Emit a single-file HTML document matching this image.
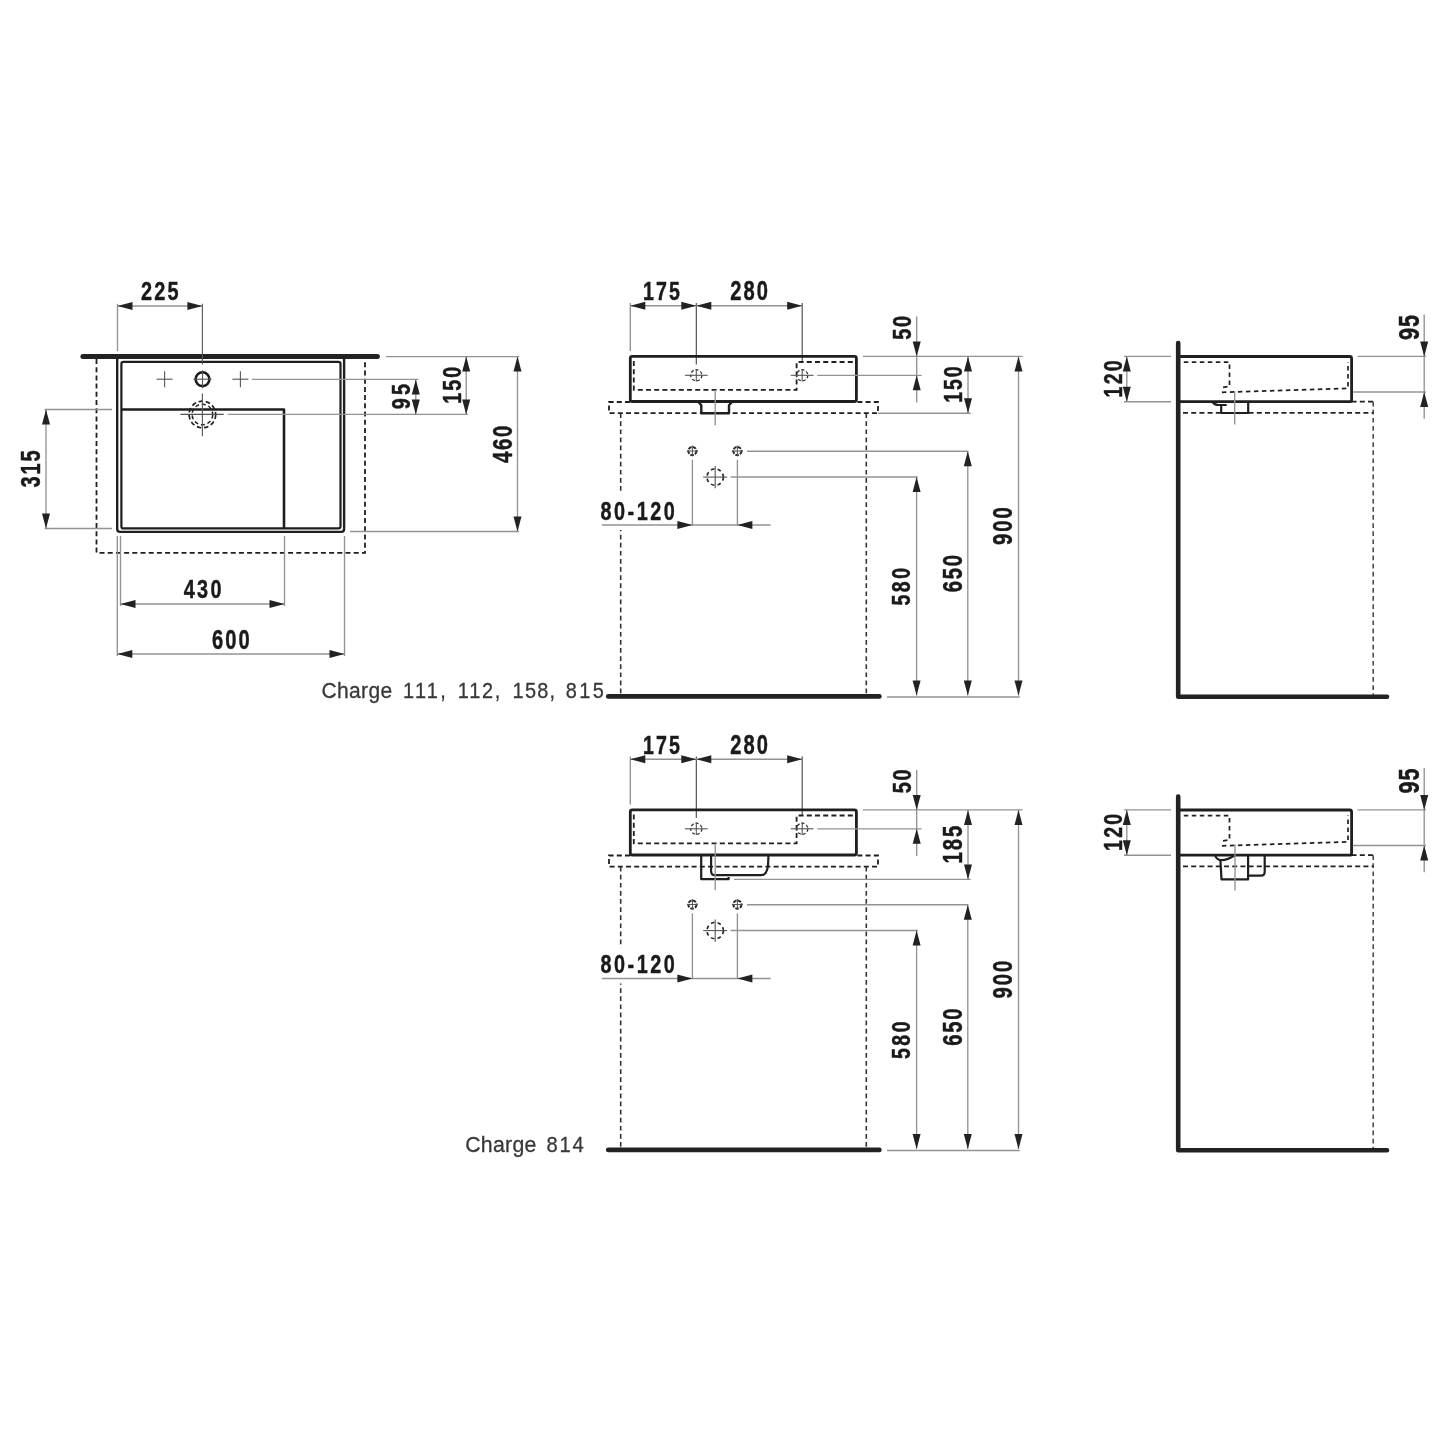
<!DOCTYPE html>
<html><head><meta charset="utf-8"><style>
html,body{margin:0;padding:0;background:#fff;}
svg{display:block;filter:blur(0.35px);}
.n{font-family:"Liberation Sans",sans-serif;font-weight:bold;fill:#1a1a1a;stroke:#1a1a1a;stroke-width:0.45px;}
.c{font-family:"Liberation Sans",sans-serif;fill:#383838;stroke:#383838;stroke-width:0.3px;}
</style></head><body>
<svg width="1445" height="1445" viewBox="0 0 1445 1445">
<rect width="1445" height="1445" fill="#fff"/>
<line x1="82.90" y1="356.40" x2="377.40" y2="356.40" stroke="#222" stroke-width="5.0" stroke-linecap="round"/>
<path d="M96.5,359 L96.5,552.8 L365,552.8 L365,359" stroke="#1f1f1f" stroke-width="1.8" fill="none" stroke-linejoin="miter" stroke-linecap="butt" stroke-dasharray="5 3.2"/>
<path d="M117.2,356.5 L117.2,529.1 Q117.2,531.9 120.0,531.9 L341.3,531.9 Q344.1,531.9 344.1,529.1 L344.1,356.5" stroke="#1f1f1f" stroke-width="2.4" fill="none" stroke-linejoin="round" stroke-linecap="butt"/>
<path d="M123.4,361.9 L338.3,361.9 Q340.5,361.9 340.5,364.1 L340.5,526.2 Q340.5,528.4 338.3,528.4 L123.4,528.4 Q121.4,528.4 121.4,526.4 L121.4,363.9 Q121.4,361.9 123.4,361.9 Z" stroke="#1f1f1f" stroke-width="2.2" fill="none" stroke-linejoin="round" stroke-linecap="butt"/>
<path d="M121.4,409.5 L284,409.5 L284,528" stroke="#1f1f1f" stroke-width="2.6" fill="none" stroke-linejoin="round" stroke-linecap="butt"/>
<line x1="117.50" y1="303.80" x2="117.50" y2="351.00" stroke="#939393" stroke-width="1.35" stroke-linecap="butt"/>
<line x1="202.40" y1="303.80" x2="202.40" y2="364.60" stroke="#555" stroke-width="1.1" stroke-linecap="butt"/>
<line x1="117.50" y1="306.00" x2="202.40" y2="306.00" stroke="#939393" stroke-width="1.35" stroke-linecap="butt"/>
<polygon points="117.50,306.00 132.50,302.00 132.50,310.00" fill="#222"/>
<polygon points="202.40,306.00 187.40,302.00 187.40,310.00" fill="#222"/>
<text transform="translate(140.90,300.20) scale(0.7500,1)" x="-0.00" y="0" font-size="26.57" letter-spacing="2.978" class="n">225</text>
<circle cx="202.5" cy="379.2" r="6.9" fill="none" stroke="#1c1c1c" stroke-width="2.6"/>
<line x1="193.50" y1="379.20" x2="211.50" y2="379.20" stroke="#555" stroke-width="1.1" stroke-linecap="butt"/>
<line x1="202.50" y1="370.20" x2="202.50" y2="388.20" stroke="#555" stroke-width="1.1" stroke-linecap="butt"/>
<line x1="156.60" y1="379.20" x2="172.60" y2="379.20" stroke="#555" stroke-width="1.1" stroke-linecap="butt"/>
<line x1="164.60" y1="371.20" x2="164.60" y2="387.20" stroke="#555" stroke-width="1.1" stroke-linecap="butt"/>
<line x1="232.40" y1="379.20" x2="248.40" y2="379.20" stroke="#555" stroke-width="1.1" stroke-linecap="butt"/>
<line x1="240.40" y1="371.20" x2="240.40" y2="387.20" stroke="#555" stroke-width="1.1" stroke-linecap="butt"/>
<line x1="251.80" y1="379.40" x2="418.50" y2="379.40" stroke="#939393" stroke-width="1.35" stroke-linecap="butt"/>
<circle cx="202.4" cy="414.5" r="13.3" fill="none" stroke="#222" stroke-width="1.7" stroke-dasharray="4.5 2.8"/>
<circle cx="202.4" cy="414.5" r="10.3" fill="none" stroke="#222" stroke-width="1.5" stroke-dasharray="4 2.8"/>
<line x1="180.40" y1="414.40" x2="223.80" y2="414.40" stroke="#555" stroke-width="1.1" stroke-linecap="butt"/>
<line x1="202.40" y1="393.60" x2="202.40" y2="436.30" stroke="#555" stroke-width="1.1" stroke-linecap="butt"/>
<line x1="227.60" y1="414.40" x2="468.00" y2="414.40" stroke="#939393" stroke-width="1.35" stroke-linecap="butt"/>
<line x1="44.60" y1="409.50" x2="112.00" y2="409.50" stroke="#939393" stroke-width="1.35" stroke-linecap="butt"/>
<line x1="44.60" y1="528.50" x2="112.00" y2="528.50" stroke="#939393" stroke-width="1.35" stroke-linecap="butt"/>
<line x1="46.00" y1="409.50" x2="46.00" y2="528.50" stroke="#939393" stroke-width="1.35" stroke-linecap="butt"/>
<polygon points="46.00,409.50 42.00,424.50 50.00,424.50" fill="#222"/>
<polygon points="46.00,528.50 42.00,513.50 50.00,513.50" fill="#222"/>
<text transform="translate(40.10,487.40) rotate(-90) scale(0.7500,1)" x="-0.00" y="0" font-size="26.71" letter-spacing="2.461" class="n">315</text>
<line x1="386.00" y1="356.60" x2="519.00" y2="356.60" stroke="#939393" stroke-width="1.35" stroke-linecap="butt"/>
<line x1="350.00" y1="531.50" x2="519.00" y2="531.50" stroke="#939393" stroke-width="1.35" stroke-linecap="butt"/>
<line x1="517.50" y1="356.60" x2="517.50" y2="531.50" stroke="#939393" stroke-width="1.35" stroke-linecap="butt"/>
<polygon points="517.50,356.60 513.50,371.60 521.50,371.60" fill="#222"/>
<polygon points="517.50,531.50 513.50,516.50 521.50,516.50" fill="#222"/>
<text transform="translate(511.60,463.10) rotate(-90) scale(0.7500,1)" x="-0.00" y="0" font-size="27.27" letter-spacing="2.195" class="n">460</text>
<line x1="415.80" y1="379.40" x2="415.80" y2="414.50" stroke="#939393" stroke-width="1.35" stroke-linecap="butt"/>
<polygon points="415.80,379.40 411.80,394.40 419.80,394.40" fill="#222"/>
<polygon points="415.80,414.50 411.80,399.50 419.80,399.50" fill="#222"/>
<text transform="translate(409.50,409.20) rotate(-90) scale(0.7500,1)" x="-0.00" y="0" font-size="26.43" letter-spacing="4.193" class="n">95</text>
<line x1="466.20" y1="356.60" x2="466.20" y2="414.50" stroke="#939393" stroke-width="1.35" stroke-linecap="butt"/>
<polygon points="466.20,356.60 462.20,371.60 470.20,371.60" fill="#222"/>
<polygon points="466.20,414.50 462.20,399.50 470.20,399.50" fill="#222"/>
<text transform="translate(460.80,403.80) rotate(-90) scale(0.7500,1)" x="-0.00" y="0" font-size="26.29" letter-spacing="2.678" class="n">150</text>
<line x1="117.30" y1="536.00" x2="117.30" y2="656.00" stroke="#939393" stroke-width="1.35" stroke-linecap="butt"/>
<line x1="344.50" y1="536.00" x2="344.50" y2="656.00" stroke="#939393" stroke-width="1.35" stroke-linecap="butt"/>
<line x1="120.50" y1="536.00" x2="120.50" y2="606.00" stroke="#939393" stroke-width="1.35" stroke-linecap="butt"/>
<line x1="284.50" y1="536.00" x2="284.50" y2="606.00" stroke="#939393" stroke-width="1.35" stroke-linecap="butt"/>
<line x1="120.50" y1="604.00" x2="284.50" y2="604.00" stroke="#939393" stroke-width="1.35" stroke-linecap="butt"/>
<polygon points="120.50,604.00 135.50,600.00 135.50,608.00" fill="#222"/>
<polygon points="284.50,604.00 269.50,600.00 269.50,608.00" fill="#222"/>
<line x1="117.30" y1="654.00" x2="344.50" y2="654.00" stroke="#939393" stroke-width="1.35" stroke-linecap="butt"/>
<polygon points="117.30,654.00 132.30,650.00 132.30,658.00" fill="#222"/>
<polygon points="344.50,654.00 329.50,650.00 329.50,658.00" fill="#222"/>
<text transform="translate(183.70,597.90) scale(0.7500,1)" x="-0.00" y="0" font-size="26.43" letter-spacing="3.094" class="n">430</text>
<text transform="translate(211.90,648.90) scale(0.7500,1)" x="-0.00" y="0" font-size="26.85" letter-spacing="2.878" class="n">600</text>
<text transform="translate(321.40,697.70) scale(0.9500,1)" x="-0.00" y="0" font-size="22.14" letter-spacing="0.401" class="c">Charge</text>
<text transform="translate(403.00,697.70) scale(0.9000,1)" x="-0.00" y="0" font-size="22.14" letter-spacing="2.585" class="c">111,</text>
<text transform="translate(457.80,697.70) scale(0.9000,1)" x="-0.00" y="0" font-size="22.14" letter-spacing="1.957" class="c">112,</text>
<text transform="translate(512.60,697.70) scale(0.9000,1)" x="-0.00" y="0" font-size="22.14" letter-spacing="1.403" class="c">158,</text>
<text transform="translate(565.70,697.70) scale(0.9000,1)" x="-0.00" y="0" font-size="22.14" letter-spacing="2.761" class="c">815</text>
<line x1="630.30" y1="303.00" x2="630.30" y2="351.00" stroke="#939393" stroke-width="1.35" stroke-linecap="butt"/>
<line x1="696.30" y1="303.00" x2="696.30" y2="364.50" stroke="#444" stroke-width="1.1" stroke-linecap="butt"/>
<line x1="802.20" y1="303.00" x2="802.20" y2="362.00" stroke="#444" stroke-width="1.1" stroke-linecap="butt"/>
<line x1="630.30" y1="305.70" x2="802.20" y2="305.70" stroke="#939393" stroke-width="1.35" stroke-linecap="butt"/>
<polygon points="630.30,305.70 645.30,301.70 645.30,309.70" fill="#222"/>
<polygon points="696.30,305.70 681.30,301.70 681.30,309.70" fill="#222"/>
<polygon points="696.30,305.70 711.30,301.70 711.30,309.70" fill="#222"/>
<polygon points="802.20,305.70 787.20,301.70 787.20,309.70" fill="#222"/>
<text transform="translate(643.00,300.10) scale(0.7500,1)" x="-0.00" y="0" font-size="26.15" letter-spacing="2.794" class="n">175</text>
<text transform="translate(730.20,300.10) scale(0.7500,1)" x="-0.00" y="0" font-size="26.85" letter-spacing="2.745" class="n">280</text>
<path d="M630,402.00 L609,402.00 L609,413.20 L878,413.20 L878,402.00 L856,402.00" stroke="#1f1f1f" stroke-width="1.8" fill="none" stroke-linejoin="miter" stroke-linecap="butt" stroke-dasharray="5 3.2"/>
<line x1="620.70" y1="413.20" x2="620.70" y2="695.00" stroke="#333" stroke-width="1.6" stroke-linecap="butt" stroke-dasharray="4.7 3.4"/>
<line x1="866.30" y1="413.20" x2="866.30" y2="695.00" stroke="#333" stroke-width="1.6" stroke-linecap="butt" stroke-dasharray="4.7 3.4"/>
<path d="M632.3,356.40 L854.4,356.40 Q856.4,356.40 856.4,358.40 L856.4,399.50 Q856.4,401.50 854.4,401.50 L632.3,401.50 Q630.3,401.50 630.3,399.50 L630.3,358.40 Q630.3,356.40 632.3,356.40 Z" stroke="#1f1f1f" stroke-width="2.8" fill="none" stroke-linejoin="round" stroke-linecap="butt"/>
<path d="M633.8,361.00 L633.8,389.80 L796.6,389.80 L796.6,362.00 L853,362.00" stroke="#1f1f1f" stroke-width="1.8" fill="none" stroke-linejoin="miter" stroke-linecap="butt" stroke-dasharray="5 3.2"/>
<circle cx="696.3" cy="375.30" r="5.6" fill="none" stroke="#333" stroke-width="1.3" stroke-dasharray="3 2"/>
<line x1="684.90" y1="375.30" x2="707.70" y2="375.30" stroke="#555" stroke-width="1.1" stroke-linecap="butt"/>
<line x1="696.30" y1="369.10" x2="696.30" y2="381.50" stroke="#555" stroke-width="1.1" stroke-linecap="butt"/>
<circle cx="802.2" cy="375.30" r="5.6" fill="none" stroke="#333" stroke-width="1.3" stroke-dasharray="3 2"/>
<line x1="790.80" y1="375.30" x2="813.60" y2="375.30" stroke="#555" stroke-width="1.1" stroke-linecap="butt"/>
<line x1="802.20" y1="369.10" x2="802.20" y2="381.50" stroke="#555" stroke-width="1.1" stroke-linecap="butt"/>
<line x1="817.30" y1="375.30" x2="921.60" y2="375.30" stroke="#939393" stroke-width="1.35" stroke-linecap="butt"/>
<line x1="862.80" y1="356.40" x2="1022.60" y2="356.40" stroke="#939393" stroke-width="1.35" stroke-linecap="butt"/>
<path d="M698,401.50 L701.3,405.30 L701.3,413.30 L729,413.30 L729,405.30 L732.3,401.50" stroke="#1f1f1f" stroke-width="2.4" fill="none" stroke-linejoin="round" stroke-linecap="butt"/>
<line x1="715.20" y1="390.00" x2="715.20" y2="425.30" stroke="#939393" stroke-width="1.35" stroke-linecap="butt"/>
<line x1="878.00" y1="413.20" x2="970.70" y2="413.20" stroke="#939393" stroke-width="1.35" stroke-linecap="butt"/>
<line x1="968.00" y1="356.40" x2="968.00" y2="413.20" stroke="#939393" stroke-width="1.35" stroke-linecap="butt"/>
<polygon points="968.00,356.40 964.00,371.40 972.00,371.40" fill="#222"/>
<polygon points="968.00,413.20 964.00,398.20 972.00,398.20" fill="#222"/>
<text transform="translate(961.90,402.80) rotate(-90) scale(0.7500,1)" x="-0.00" y="0" font-size="26.15" letter-spacing="2.461" class="n">150</text>
<line x1="916.70" y1="316.60" x2="916.70" y2="402.40" stroke="#939393" stroke-width="1.35" stroke-linecap="butt"/>
<polygon points="916.70,356.40 912.70,341.40 920.70,341.40" fill="#222"/>
<polygon points="916.70,375.30 912.70,390.30 920.70,390.30" fill="#222"/>
<text transform="translate(911.30,339.80) rotate(-90) scale(0.7500,1)" x="-0.00" y="0" font-size="26.57" letter-spacing="2.304" class="n">50</text>
<line x1="608.30" y1="696.40" x2="879.30" y2="696.40" stroke="#222" stroke-width="4.8" stroke-linecap="round"/>
<line x1="887.00" y1="697.00" x2="1019.80" y2="697.00" stroke="#939393" stroke-width="1.35" stroke-linecap="butt"/>
<circle cx="692.4" cy="451.00" r="4.1" fill="none" stroke="#2a2a2a" stroke-width="2.0" stroke-dasharray="3.6 1.2"/>
<line x1="686.90" y1="451.00" x2="697.90" y2="451.00" stroke="#555" stroke-width="1.0" stroke-linecap="butt"/>
<line x1="692.40" y1="445.50" x2="692.40" y2="456.50" stroke="#555" stroke-width="1.0" stroke-linecap="butt"/>
<circle cx="737.4" cy="451.00" r="4.1" fill="none" stroke="#2a2a2a" stroke-width="2.0" stroke-dasharray="3.6 1.2"/>
<line x1="731.90" y1="451.00" x2="742.90" y2="451.00" stroke="#555" stroke-width="1.0" stroke-linecap="butt"/>
<line x1="737.40" y1="445.50" x2="737.40" y2="456.50" stroke="#555" stroke-width="1.0" stroke-linecap="butt"/>
<circle cx="715.2" cy="477.10" r="8.2" fill="none" stroke="#2a2a2a" stroke-width="1.7" stroke-dasharray="3.6 3.2"/>
<line x1="703.20" y1="477.10" x2="727.20" y2="477.10" stroke="#555" stroke-width="1.1" stroke-linecap="butt"/>
<line x1="715.20" y1="465.90" x2="715.20" y2="488.30" stroke="#555" stroke-width="1.1" stroke-linecap="butt"/>
<line x1="692.40" y1="459.80" x2="692.40" y2="525.50" stroke="#939393" stroke-width="1.35" stroke-linecap="butt"/>
<line x1="737.40" y1="459.80" x2="737.40" y2="525.50" stroke="#939393" stroke-width="1.35" stroke-linecap="butt"/>
<line x1="747.00" y1="451.20" x2="968.40" y2="451.20" stroke="#939393" stroke-width="1.35" stroke-linecap="butt"/>
<line x1="730.50" y1="477.00" x2="917.90" y2="477.00" stroke="#939393" stroke-width="1.35" stroke-linecap="butt"/>
<rect x="612" y="494.00" width="18" height="36" fill="#fff"/>
<text transform="translate(600.40,519.80) scale(0.7500,1)" x="-0.00" y="0" font-size="26.43" letter-spacing="3.372" class="n">80-120</text>
<line x1="601.80" y1="525.00" x2="770.60" y2="525.00" stroke="#939393" stroke-width="1.35" stroke-linecap="butt"/>
<polygon points="692.40,525.00 677.40,521.00 677.40,529.00" fill="#222"/>
<polygon points="737.40,525.00 752.40,521.00 752.40,529.00" fill="#222"/>
<line x1="916.60" y1="477.00" x2="916.60" y2="695.50" stroke="#939393" stroke-width="1.35" stroke-linecap="butt"/>
<polygon points="916.60,477.00 912.60,492.00 920.60,492.00" fill="#222"/>
<polygon points="916.60,695.50 912.60,680.50 920.60,680.50" fill="#222"/>
<line x1="967.80" y1="451.20" x2="967.80" y2="695.50" stroke="#939393" stroke-width="1.35" stroke-linecap="butt"/>
<polygon points="967.80,451.20 963.80,466.20 971.80,466.20" fill="#222"/>
<polygon points="967.80,695.50 963.80,680.50 971.80,680.50" fill="#222"/>
<line x1="1018.50" y1="356.40" x2="1018.50" y2="695.50" stroke="#939393" stroke-width="1.35" stroke-linecap="butt"/>
<polygon points="1018.50,356.40 1014.50,371.40 1022.50,371.40" fill="#222"/>
<polygon points="1018.50,695.50 1014.50,680.50 1022.50,680.50" fill="#222"/>
<text transform="translate(910.40,605.40) rotate(-90) scale(0.7500,1)" x="-0.00" y="0" font-size="26.01" letter-spacing="3.244" class="n">580</text>
<text transform="translate(962.40,592.30) rotate(-90) scale(0.7500,1)" x="-0.00" y="0" font-size="26.99" letter-spacing="2.428" class="n">650</text>
<text transform="translate(1012.30,545.00) rotate(-90) scale(0.7500,1)" x="-0.00" y="0" font-size="26.99" letter-spacing="2.628" class="n">900</text>
<path d="M1351.6,401.70 L1373.2,401.70" stroke="#1f1f1f" stroke-width="1.7" fill="none" stroke-linejoin="miter" stroke-linecap="butt" stroke-dasharray="5 3.2"/>
<line x1="1373.20" y1="401.70" x2="1373.20" y2="696.00" stroke="#444" stroke-width="1.5" stroke-linecap="butt" stroke-dasharray="4.7 3.4"/>
<line x1="1183.00" y1="412.80" x2="1373.20" y2="412.80" stroke="#222" stroke-width="1.8" stroke-linecap="butt" stroke-dasharray="5 3.2"/>
<path d="M1178,356.50 L1349.6,356.50 Q1351.6,356.50 1351.6,358.50 L1351.6,399.70 Q1351.6,401.70 1349.6,401.70 L1178,401.70" stroke="#1f1f1f" stroke-width="2.8" fill="none" stroke-linejoin="round" stroke-linecap="butt"/>
<path d="M1183.8,362.10 L1229.5,362.10 L1229.5,386.40 L1220.5,387.80" stroke="#1f1f1f" stroke-width="1.7" fill="none" stroke-linejoin="miter" stroke-linecap="butt" stroke-dasharray="4.5 3.5"/>
<path d="M1221.9,392.30 L1348,388.40 L1348,362.00" stroke="#1f1f1f" stroke-width="1.7" fill="none" stroke-linejoin="miter" stroke-linecap="butt" stroke-dasharray="4.5 3.5"/>
<path d="M1178.2,343.00 L1178.2,696.70 L1387,696.70" stroke="#222" stroke-width="4.6" fill="none" stroke-linejoin="round" stroke-linecap="round"/>
<path d="M1212.2,401.60 Q1214.5,405.00 1218.4,405.00 L1226.7,405.00" stroke="#1f1f1f" stroke-width="2.2" fill="none" stroke-linejoin="round" stroke-linecap="butt"/>
<path d="M1221.2,405.00 L1221.2,413.00 L1248.2,413.00 L1248.2,401.60" stroke="#1f1f1f" stroke-width="2.2" fill="none" stroke-linejoin="round" stroke-linecap="butt"/>
<line x1="1234.70" y1="391.00" x2="1234.70" y2="424.40" stroke="#939393" stroke-width="1.35" stroke-linecap="butt"/>
<line x1="1124.00" y1="356.40" x2="1171.00" y2="356.40" stroke="#939393" stroke-width="1.35" stroke-linecap="butt"/>
<line x1="1124.00" y1="401.70" x2="1171.00" y2="401.70" stroke="#939393" stroke-width="1.35" stroke-linecap="butt"/>
<line x1="1126.80" y1="356.40" x2="1126.80" y2="401.70" stroke="#939393" stroke-width="1.35" stroke-linecap="butt"/>
<polygon points="1126.80,356.40 1122.80,371.40 1130.80,371.40" fill="#222"/>
<polygon points="1126.80,401.70 1122.80,386.70 1130.80,386.70" fill="#222"/>
<text transform="translate(1121.60,397.50) rotate(-90) scale(0.7500,1)" x="-0.00" y="0" font-size="26.15" letter-spacing="2.994" class="n">120</text>
<line x1="1357.60" y1="356.40" x2="1426.00" y2="356.40" stroke="#939393" stroke-width="1.35" stroke-linecap="butt"/>
<line x1="1352.80" y1="392.00" x2="1426.00" y2="392.00" stroke="#939393" stroke-width="1.35" stroke-linecap="butt"/>
<line x1="1424.20" y1="314.50" x2="1424.20" y2="418.70" stroke="#939393" stroke-width="1.35" stroke-linecap="butt"/>
<polygon points="1424.20,356.40 1420.20,341.40 1428.20,341.40" fill="#222"/>
<polygon points="1424.20,392.00 1420.20,407.00 1428.20,407.00" fill="#222"/>
<text transform="translate(1419.40,340.00) rotate(-90) scale(0.7500,1)" x="-0.00" y="0" font-size="28.81" letter-spacing="1.281" class="n">95</text>
<line x1="630.30" y1="756.50" x2="630.30" y2="804.50" stroke="#939393" stroke-width="1.35" stroke-linecap="butt"/>
<line x1="696.30" y1="756.50" x2="696.30" y2="818.00" stroke="#444" stroke-width="1.1" stroke-linecap="butt"/>
<line x1="802.20" y1="756.50" x2="802.20" y2="815.50" stroke="#444" stroke-width="1.1" stroke-linecap="butt"/>
<line x1="630.30" y1="759.20" x2="802.20" y2="759.20" stroke="#939393" stroke-width="1.35" stroke-linecap="butt"/>
<polygon points="630.30,759.20 645.30,755.20 645.30,763.20" fill="#222"/>
<polygon points="696.30,759.20 681.30,755.20 681.30,763.20" fill="#222"/>
<polygon points="696.30,759.20 711.30,755.20 711.30,763.20" fill="#222"/>
<polygon points="802.20,759.20 787.20,755.20 787.20,763.20" fill="#222"/>
<text transform="translate(643.00,753.60) scale(0.7500,1)" x="-0.00" y="0" font-size="26.15" letter-spacing="2.794" class="n">175</text>
<text transform="translate(730.20,753.60) scale(0.7500,1)" x="-0.00" y="0" font-size="26.85" letter-spacing="2.745" class="n">280</text>
<path d="M630,855.50 L609,855.50 L609,866.70 L878,866.70 L878,855.50 L856,855.50" stroke="#1f1f1f" stroke-width="1.8" fill="none" stroke-linejoin="miter" stroke-linecap="butt" stroke-dasharray="5 3.2"/>
<line x1="620.70" y1="866.70" x2="620.70" y2="1148.50" stroke="#333" stroke-width="1.6" stroke-linecap="butt" stroke-dasharray="4.7 3.4"/>
<line x1="866.30" y1="866.70" x2="866.30" y2="1148.50" stroke="#333" stroke-width="1.6" stroke-linecap="butt" stroke-dasharray="4.7 3.4"/>
<path d="M632.3,809.90 L854.4,809.90 Q856.4,809.90 856.4,811.90 L856.4,853.00 Q856.4,855.00 854.4,855.00 L632.3,855.00 Q630.3,855.00 630.3,853.00 L630.3,811.90 Q630.3,809.90 632.3,809.90 Z" stroke="#1f1f1f" stroke-width="2.8" fill="none" stroke-linejoin="round" stroke-linecap="butt"/>
<path d="M633.8,814.50 L633.8,843.30 L796.6,843.30 L796.6,815.50 L853,815.50" stroke="#1f1f1f" stroke-width="1.8" fill="none" stroke-linejoin="miter" stroke-linecap="butt" stroke-dasharray="5 3.2"/>
<circle cx="696.3" cy="828.80" r="5.6" fill="none" stroke="#333" stroke-width="1.3" stroke-dasharray="3 2"/>
<line x1="684.90" y1="828.80" x2="707.70" y2="828.80" stroke="#555" stroke-width="1.1" stroke-linecap="butt"/>
<line x1="696.30" y1="822.60" x2="696.30" y2="835.00" stroke="#555" stroke-width="1.1" stroke-linecap="butt"/>
<circle cx="802.2" cy="828.80" r="5.6" fill="none" stroke="#333" stroke-width="1.3" stroke-dasharray="3 2"/>
<line x1="790.80" y1="828.80" x2="813.60" y2="828.80" stroke="#555" stroke-width="1.1" stroke-linecap="butt"/>
<line x1="802.20" y1="822.60" x2="802.20" y2="835.00" stroke="#555" stroke-width="1.1" stroke-linecap="butt"/>
<line x1="817.30" y1="828.80" x2="921.60" y2="828.80" stroke="#939393" stroke-width="1.35" stroke-linecap="butt"/>
<line x1="862.80" y1="809.90" x2="1022.60" y2="809.90" stroke="#939393" stroke-width="1.35" stroke-linecap="butt"/>
<path d="M701.2,855.10 L701.2,879.20 L728.6,879.20 L728.6,877.00" stroke="#1f1f1f" stroke-width="2.2" fill="none" stroke-linejoin="round" stroke-linecap="butt"/>
<path d="M711.1,855.10 L711.1,871.20 Q711.1,875.20 715.1,875.20 L761,875.20 Q767,875.20 768,865.50 L768.5,855.10" stroke="#1f1f1f" stroke-width="2.2" fill="none" stroke-linejoin="round" stroke-linecap="butt"/>
<line x1="715.20" y1="843.50" x2="715.20" y2="890.20" stroke="#939393" stroke-width="1.35" stroke-linecap="butt"/>
<line x1="734.00" y1="879.40" x2="970.70" y2="879.40" stroke="#939393" stroke-width="1.35" stroke-linecap="butt"/>
<line x1="968.00" y1="809.90" x2="968.00" y2="879.40" stroke="#939393" stroke-width="1.35" stroke-linecap="butt"/>
<polygon points="968.00,809.90 964.00,824.90 972.00,824.90" fill="#222"/>
<polygon points="968.00,879.40 964.00,864.40 972.00,864.40" fill="#222"/>
<text transform="translate(962.40,863.50) rotate(-90) scale(0.7500,1)" x="-0.00" y="0" font-size="27.13" letter-spacing="2.511" class="n">185</text>
<line x1="916.70" y1="770.10" x2="916.70" y2="855.90" stroke="#939393" stroke-width="1.35" stroke-linecap="butt"/>
<polygon points="916.70,809.90 912.70,794.90 920.70,794.90" fill="#222"/>
<polygon points="916.70,828.80 912.70,843.80 920.70,843.80" fill="#222"/>
<text transform="translate(911.30,793.30) rotate(-90) scale(0.7500,1)" x="-0.00" y="0" font-size="26.57" letter-spacing="2.304" class="n">50</text>
<line x1="608.30" y1="1149.90" x2="879.30" y2="1149.90" stroke="#222" stroke-width="4.8" stroke-linecap="round"/>
<line x1="887.00" y1="1150.50" x2="1019.80" y2="1150.50" stroke="#939393" stroke-width="1.35" stroke-linecap="butt"/>
<circle cx="692.4" cy="904.50" r="4.1" fill="none" stroke="#2a2a2a" stroke-width="2.0" stroke-dasharray="3.6 1.2"/>
<line x1="686.90" y1="904.50" x2="697.90" y2="904.50" stroke="#555" stroke-width="1.0" stroke-linecap="butt"/>
<line x1="692.40" y1="899.00" x2="692.40" y2="910.00" stroke="#555" stroke-width="1.0" stroke-linecap="butt"/>
<circle cx="737.4" cy="904.50" r="4.1" fill="none" stroke="#2a2a2a" stroke-width="2.0" stroke-dasharray="3.6 1.2"/>
<line x1="731.90" y1="904.50" x2="742.90" y2="904.50" stroke="#555" stroke-width="1.0" stroke-linecap="butt"/>
<line x1="737.40" y1="899.00" x2="737.40" y2="910.00" stroke="#555" stroke-width="1.0" stroke-linecap="butt"/>
<circle cx="715.2" cy="930.60" r="8.2" fill="none" stroke="#2a2a2a" stroke-width="1.7" stroke-dasharray="3.6 3.2"/>
<line x1="703.20" y1="930.60" x2="727.20" y2="930.60" stroke="#555" stroke-width="1.1" stroke-linecap="butt"/>
<line x1="715.20" y1="919.40" x2="715.20" y2="941.80" stroke="#555" stroke-width="1.1" stroke-linecap="butt"/>
<line x1="692.40" y1="913.30" x2="692.40" y2="979.00" stroke="#939393" stroke-width="1.35" stroke-linecap="butt"/>
<line x1="737.40" y1="913.30" x2="737.40" y2="979.00" stroke="#939393" stroke-width="1.35" stroke-linecap="butt"/>
<line x1="747.00" y1="904.70" x2="968.40" y2="904.70" stroke="#939393" stroke-width="1.35" stroke-linecap="butt"/>
<line x1="730.50" y1="930.50" x2="917.90" y2="930.50" stroke="#939393" stroke-width="1.35" stroke-linecap="butt"/>
<rect x="612" y="947.50" width="18" height="36" fill="#fff"/>
<text transform="translate(600.40,973.30) scale(0.7500,1)" x="-0.00" y="0" font-size="26.43" letter-spacing="3.372" class="n">80-120</text>
<line x1="601.80" y1="978.50" x2="770.60" y2="978.50" stroke="#939393" stroke-width="1.35" stroke-linecap="butt"/>
<polygon points="692.40,978.50 677.40,974.50 677.40,982.50" fill="#222"/>
<polygon points="737.40,978.50 752.40,974.50 752.40,982.50" fill="#222"/>
<line x1="916.60" y1="930.50" x2="916.60" y2="1149.00" stroke="#939393" stroke-width="1.35" stroke-linecap="butt"/>
<polygon points="916.60,930.50 912.60,945.50 920.60,945.50" fill="#222"/>
<polygon points="916.60,1149.00 912.60,1134.00 920.60,1134.00" fill="#222"/>
<line x1="967.80" y1="904.70" x2="967.80" y2="1149.00" stroke="#939393" stroke-width="1.35" stroke-linecap="butt"/>
<polygon points="967.80,904.70 963.80,919.70 971.80,919.70" fill="#222"/>
<polygon points="967.80,1149.00 963.80,1134.00 971.80,1134.00" fill="#222"/>
<line x1="1018.50" y1="809.90" x2="1018.50" y2="1149.00" stroke="#939393" stroke-width="1.35" stroke-linecap="butt"/>
<polygon points="1018.50,809.90 1014.50,824.90 1022.50,824.90" fill="#222"/>
<polygon points="1018.50,1149.00 1014.50,1134.00 1022.50,1134.00" fill="#222"/>
<text transform="translate(910.40,1058.90) rotate(-90) scale(0.7500,1)" x="-0.00" y="0" font-size="26.01" letter-spacing="3.244" class="n">580</text>
<text transform="translate(962.40,1045.80) rotate(-90) scale(0.7500,1)" x="-0.00" y="0" font-size="26.99" letter-spacing="2.428" class="n">650</text>
<text transform="translate(1012.30,998.50) rotate(-90) scale(0.7500,1)" x="-0.00" y="0" font-size="26.99" letter-spacing="2.628" class="n">900</text>
<path d="M1351.6,855.20 L1373.2,855.20" stroke="#1f1f1f" stroke-width="1.7" fill="none" stroke-linejoin="miter" stroke-linecap="butt" stroke-dasharray="5 3.2"/>
<line x1="1373.20" y1="855.20" x2="1373.20" y2="1149.50" stroke="#444" stroke-width="1.5" stroke-linecap="butt" stroke-dasharray="4.7 3.4"/>
<line x1="1183.00" y1="866.30" x2="1373.20" y2="866.30" stroke="#222" stroke-width="1.8" stroke-linecap="butt" stroke-dasharray="5 3.2"/>
<path d="M1178,810.00 L1349.6,810.00 Q1351.6,810.00 1351.6,812.00 L1351.6,853.20 Q1351.6,855.20 1349.6,855.20 L1178,855.20" stroke="#1f1f1f" stroke-width="2.8" fill="none" stroke-linejoin="round" stroke-linecap="butt"/>
<path d="M1183.8,815.60 L1229.5,815.60 L1229.5,839.90 L1220.5,841.30" stroke="#1f1f1f" stroke-width="1.7" fill="none" stroke-linejoin="miter" stroke-linecap="butt" stroke-dasharray="4.5 3.5"/>
<path d="M1221.9,845.80 L1348,841.90 L1348,815.50" stroke="#1f1f1f" stroke-width="1.7" fill="none" stroke-linejoin="miter" stroke-linecap="butt" stroke-dasharray="4.5 3.5"/>
<path d="M1178.2,796.50 L1178.2,1150.20 L1387,1150.20" stroke="#222" stroke-width="4.6" fill="none" stroke-linejoin="round" stroke-linecap="round"/>
<path d="M1214.9,855.10 Q1217,860.10 1221,860.10 Q1228,860.10 1235,855.10" stroke="#1f1f1f" stroke-width="2.2" fill="none" stroke-linejoin="round" stroke-linecap="butt"/>
<path d="M1220.4,860.10 L1221.5,879.40 L1248.1,879.40 L1248.1,855.10" stroke="#1f1f1f" stroke-width="2.2" fill="none" stroke-linejoin="round" stroke-linecap="butt"/>
<path d="M1248.1,875.60 L1261,875.60 Q1264.7,875.60 1264.7,872.00 L1264.7,855.10" stroke="#1f1f1f" stroke-width="2.2" fill="none" stroke-linejoin="round" stroke-linecap="butt"/>
<line x1="1235.00" y1="844.50" x2="1235.00" y2="890.50" stroke="#939393" stroke-width="1.35" stroke-linecap="butt"/>
<line x1="1124.00" y1="809.90" x2="1171.00" y2="809.90" stroke="#939393" stroke-width="1.35" stroke-linecap="butt"/>
<line x1="1124.00" y1="855.20" x2="1171.00" y2="855.20" stroke="#939393" stroke-width="1.35" stroke-linecap="butt"/>
<line x1="1126.80" y1="809.90" x2="1126.80" y2="855.20" stroke="#939393" stroke-width="1.35" stroke-linecap="butt"/>
<polygon points="1126.80,809.90 1122.80,824.90 1130.80,824.90" fill="#222"/>
<polygon points="1126.80,855.20 1122.80,840.20 1130.80,840.20" fill="#222"/>
<text transform="translate(1121.60,851.00) rotate(-90) scale(0.7500,1)" x="-0.00" y="0" font-size="26.15" letter-spacing="2.994" class="n">120</text>
<line x1="1357.60" y1="809.90" x2="1426.00" y2="809.90" stroke="#939393" stroke-width="1.35" stroke-linecap="butt"/>
<line x1="1352.80" y1="845.50" x2="1426.00" y2="845.50" stroke="#939393" stroke-width="1.35" stroke-linecap="butt"/>
<line x1="1424.20" y1="768.00" x2="1424.20" y2="872.20" stroke="#939393" stroke-width="1.35" stroke-linecap="butt"/>
<polygon points="1424.20,809.90 1420.20,794.90 1428.20,794.90" fill="#222"/>
<polygon points="1424.20,845.50 1420.20,860.50 1428.20,860.50" fill="#222"/>
<text transform="translate(1419.40,793.50) rotate(-90) scale(0.7500,1)" x="-0.00" y="0" font-size="28.81" letter-spacing="1.281" class="n">95</text>
<text transform="translate(465.20,1151.70) scale(0.9500,1)" x="-0.00" y="0" font-size="22.43" letter-spacing="0.297" class="c">Charge</text>
<text transform="translate(546.40,1151.70) scale(0.9000,1)" x="-0.00" y="0" font-size="22.43" letter-spacing="2.022" class="c">814</text>
</svg></body></html>
